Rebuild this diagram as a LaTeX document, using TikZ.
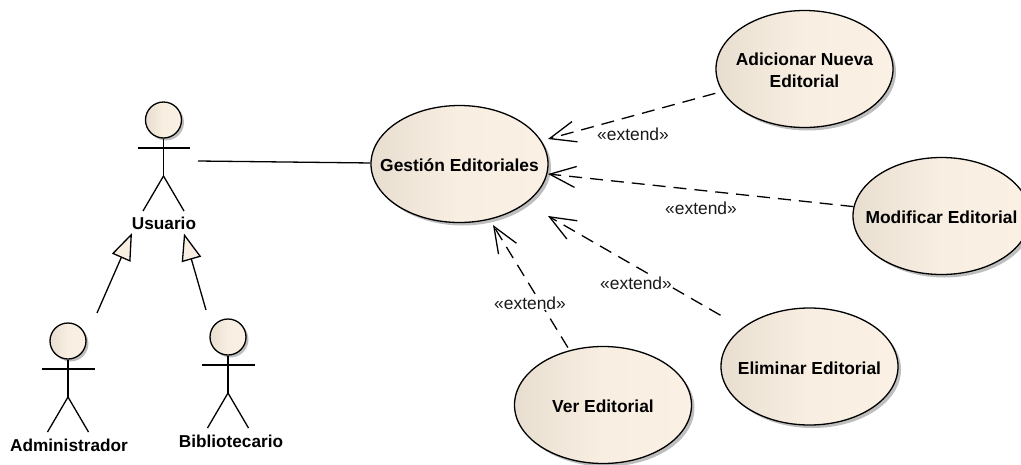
\documentclass[tikz,border=0pt]{standalone}
\usepackage{fontspec}
\setmainfont{Liberation Sans}
\usetikzlibrary{shapes.geometric,arrows.meta}
\definecolor{creamL}{HTML}{E8DED0}
\definecolor{creamM}{HTML}{F8EFE2}
\definecolor{creamR}{HTML}{FAF1E4}
\definecolor{shadowgray}{HTML}{BEBEBE}
\definecolor{labelink}{HTML}{1A1A1A}
\newcommand{\uctext}[1]{\makebox[0pt][c]{\raisebox{0pt}[\dimexpr\height+6pt\relax][\depth]{\begin{tabular}{@{}c@{}}#1\end{tabular}}}}
\tikzset{
  x=1pt,y=-1pt,
  usecase/.style={ellipse,draw=black,line width=1.3pt,minimum width=177pt,minimum height=117pt,
    inner sep=0pt,font=\fontsize{17.4}{22.5}\selectfont\bfseries,
    left color=creamL,right color=creamR,middle color=creamM},
  ushadow/.style={ellipse,fill=shadowgray,minimum width=177pt,minimum height=117pt,inner sep=0pt},
  head/.style={circle,draw=black,line width=1.3pt,minimum size=36pt,inner sep=0pt,
    left color=creamL,right color=creamR,middle color=creamM},
  hshadow/.style={circle,fill=shadowgray,minimum size=36pt,inner sep=0pt},
  actorname/.style={font=\fontsize{17.2}{20}\selectfont\bfseries,inner sep=0pt},
  stereo/.style={fill=white,inner sep=0.5pt,font=\fontsize{17.4}{19}\selectfont,text=labelink},
  limb/.style={draw=black,line width=1.3pt},
  assoc/.style={draw=black,line width=1.3pt},
  extendline/.style={draw=black,line width=1.3pt,dash pattern=on 13pt off 8pt,
    -{Straight Barb[length=26pt,width=21pt,line width=1.3pt]}},
  genline/.style={draw=black,line width=1.3pt,
    -{Triangle[length=27pt,width=20pt,fill=creamM,line width=1.3pt]}}
}
\newcommand{\stickman}[3]{% name, head x, head y
  \node[hshadow] at (#2+2.5,#3+2.5) (#1shadow) {};
  \node[head] (#1) at (#2,#3) {};
  \coordinate (#1armL) at (#2-26,#3+28);
  \coordinate (#1armR) at (#2+26.5,#3+28);
  \coordinate (#1crotch) at (#2,#3+56);
  \coordinate (#1legL) at (#2-20.5,#3+91);
  \coordinate (#1legR) at (#2+20.5,#3+91);
  \draw[limb] (#1) -- (#1crotch);
  \draw[limb] (#1armL) -- (#1armR);
  \draw[limb] (#1legL) -- (#1crotch) -- (#1legR);
}
\begin{document}
\begin{tikzpicture}
\clip (0,0) rectangle (1021,464);
\useasboundingbox (0,0) rectangle (1021,464);
% shadows
\node[ushadow] (gshadow) at (462.5,167) {};
\node[ushadow] (ashadow) at (807.5,72) {};
\node[ushadow] (mshadow) at (944.5,219) {};
\node[ushadow] (eshadow) at (812.5,369.5) {};
\node[ushadow] (vshadow) at (606,408) {};
% use cases
\node[usecase] (gest) at (459.5,164) {\uctext{Gestión Editoriales}};
\node[usecase] (adic) at (804.5,69) {\uctext{Adicionar Nueva\\Editorial}};
\node[usecase] (modif) at (941.5,216) {\uctext{Modificar Editorial}};
\node[usecase] (elim) at (809.5,366.5) {\uctext{Eliminar Editorial}};
\node[usecase] (ver) at (603,405) {\uctext{Ver Editorial}};
% actors
\stickman{usr}{163.5}{120}
\stickman{adm}{68}{341}
\stickman{bib}{228}{337}
\node[actorname] (usrlabel) at (164,223) {Usuario};
\node[actorname] (admlabel) at (69,445) {Administrador};
\node[actorname] (biblabel) at (231,441) {Bibliotecario};
% free ends
\coordinate (usrport) at (198,161);
\coordinate (admstart) at (97,313);
\coordinate (bibstart) at (206,310);
\coordinate (usrtipA) at (132,233);
\coordinate (usrtipB) at (184,233.5);
\coordinate (tipA) at (548,139);
\coordinate (tipB) at (548,174);
\coordinate (tipC) at (548,216);
\coordinate (tipD) at (493,225);
% connectors
\draw[assoc] (usrport) -- (gest);
\draw[genline] (admstart) -- (usrtipA);
\draw[genline] (bibstart) -- (usrtipB);
\draw[extendline,shorten <=7pt] (adic) -- (tipA);
\draw[extendline] (modif) -- (tipB);
\draw[extendline,shorten <=25pt] (elim) -- (tipC);
\draw[extendline,shorten <=3pt] (ver) -- (tipD);
% stereotypes
\node[stereo] (xa) at (633,134) {«extend»};
\node[stereo] (xb) at (701,208) {«extend»};
\node[stereo] (xc) at (636,283) {«extend»};
\node[stereo] (xd) at (530,303) {«extend»};
\end{tikzpicture}
\end{document}
